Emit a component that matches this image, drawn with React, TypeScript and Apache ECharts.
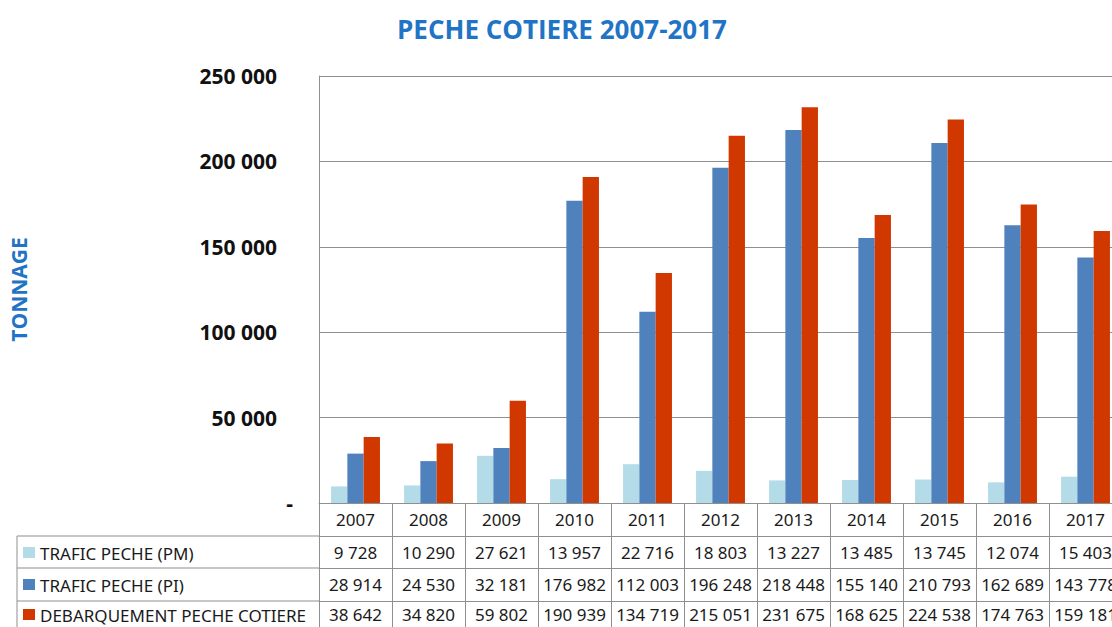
import React, { useEffect, useRef } from "react";
import * as echarts from "echarts";

const years = ["2007", "2008", "2009", "2010", "2011", "2012", "2013", "2014", "2015", "2016", "2017"];
const traficPM = [9728, 10290, 27621, 13957, 22716, 18803, 13227, 13485, 13745, 12074, 15403];
const traficPI = [28914, 24530, 32181, 176982, 112003, 196248, 218448, 155140, 210793, 162689, 143778];
const debarquement = [38642, 34820, 59802, 190939, 134719, 215051, 231675, 168625, 224538, 174763, 159181];
const seriesNames = ["TRAFIC PECHE (PM)", "TRAFIC PECHE (PI)", "DEBARQUEMENT PECHE COTIERE"];
const seriesColors = ["#B3DCE8", "#4F81BD", "#D03800"];
const yTicks = [0, 50000, 100000, 150000, 200000, 250000];

const fmt = (v: number) => String(v).replace(/\B(?=(\d{3})+(?!\d))/g, " ");

const GRID_LEFT = 319;
const GRID_TOP = 76;
const GRID_BOTTOM_Y = 503;
const CHART_W = 1130;
const CHART_H = 627;
const ROW_OFFSETS = [33, 65, 98];
const ROW_MARGINS = [8, 8, 5];
const LINE_COLOR = "#8f8f8f";
const TABLE_FONT = "'Noto Sans', 'Liberation Sans', sans-serif";

export default function App() {
  const ref = useRef<HTMLDivElement>(null);

  useEffect(() => {
    if (!ref.current) return;
    const chart = echarts.init(ref.current, undefined, { renderer: "svg" });
    const rowData = [traficPM, traficPI, debarquement];

    const xAxes: any[] = [
      {
        type: "category",
        data: years,
        position: "bottom",
        boundaryGap: true,
        axisLine: { show: true, lineStyle: { color: LINE_COLOR, width: 1 } },
        axisTick: { show: true, alignWithLabel: false, interval: 0, length: 33, lineStyle: { color: LINE_COLOR } },
        axisLabel: { interval: 0, margin: 8, fontSize: 17, color: "#1a1a1a", fontFamily: TABLE_FONT },
      },
      ...rowData.map((arr, k) => ({
        type: "category",
        data: years,
        position: "bottom",
        offset: ROW_OFFSETS[k],
        boundaryGap: true,
        axisLine: { show: true, lineStyle: { color: LINE_COLOR, width: 1 } },
        axisTick: { show: true, alignWithLabel: false, interval: 0, length: 33, lineStyle: { color: LINE_COLOR } },
        axisLabel: {
          interval: 0,
          margin: ROW_MARGINS[k],
          fontSize: 17,
          color: "#1a1a1a",
          fontFamily: TABLE_FONT,
          formatter: (_v: string, i: number) => fmt(arr[i]),
        },
      })),
    ];

    const rowLines = [GRID_BOTTOM_Y + ROW_OFFSETS[0], GRID_BOTTOM_Y + ROW_OFFSETS[1], GRID_BOTTOM_Y + ROW_OFFSETS[2]];
    const rowCenters = [553, 585, 615];

    const graphic: any[] = [
      {
        type: "text",
        x: 562,
        y: 29,
        style: {
          text: "PECHE COTIERE 2007-2017",
          fill: "#1F74C6",
          font: "bold 26px 'Open Sans', sans-serif",
          textAlign: "center",
          textVerticalAlign: "middle",
        },
      },
      ...rowLines.map((y) => ({
        type: "line",
        shape: { x1: 17, y1: y, x2: GRID_LEFT, y2: y },
        style: { stroke: LINE_COLOR, lineWidth: 1 },
      })),
      {
        type: "line",
        shape: { x1: 17, y1: rowLines[0], x2: 17, y2: CHART_H },
        style: { stroke: LINE_COLOR, lineWidth: 1 },
      },
      ...seriesNames.flatMap((name, k) => [
        {
          type: "rect",
          shape: { x: 23, y: rowCenters[k] - 6, width: 12, height: 11 },
          style: { fill: seriesColors[k] },
        },
        {
          type: "text",
          x: 40,
          y: rowCenters[k],
          style: {
            text: name,
            fill: "#1a1a1a",
            font: `17px ${TABLE_FONT}`,
            textVerticalAlign: "middle",
          },
        },
      ]),
    ];

    chart.setOption({
      animation: false,
      backgroundColor: "#ffffff",
      grid: { left: GRID_LEFT, top: GRID_TOP, right: CHART_W - 1122, bottom: CHART_H - GRID_BOTTOM_Y, containLabel: false },
      xAxis: xAxes,
      yAxis: {
        type: "value",
        min: yTicks[0],
        max: yTicks[yTicks.length - 1],
        interval: 50000,
        name: "TONNAGE",
        nameLocation: "middle",
        nameGap: 290,
        nameRotate: 90,
        nameTextStyle: { color: "#1F74C6", fontSize: 21, fontWeight: "bold", fontFamily: "'Open Sans', sans-serif" },
        axisLine: { show: true, lineStyle: { color: LINE_COLOR, width: 1 } },
        axisTick: { show: false },
        splitLine: { show: true, lineStyle: { color: LINE_COLOR, width: 1 } },
        axisLabel: {
          margin: 26,
          formatter: (v: number) => (v === 0 ? "{z|-}" : `{n|${fmt(v)}}`),
          rich: {
            n: { fontSize: 21, fontWeight: "bold", color: "#111", fontFamily: "'Open Sans', sans-serif", padding: [0, 16, 0, 0] },
            z: { fontSize: 21, fontWeight: "bold", color: "#111", fontFamily: "'Open Sans', sans-serif" },
          },
        },
      },
      series: seriesNames.map((name, k) => ({
        name,
        type: "bar",
        xAxisIndex: 0,
        data: rowData[k],
        barGap: "0%",
        barCategoryGap: "33%",
        itemStyle: { color: seriesColors[k] },
      })),
      graphic,
    });

    return () => chart.dispose();
  }, []);

  return (
    <div style={{ position: "fixed", left: 0, top: 0, width: 1112, height: 627, overflow: "hidden", background: "#fff" }}>
      <div ref={ref} style={{ width: CHART_W, height: CHART_H }} />
    </div>
  );
}
